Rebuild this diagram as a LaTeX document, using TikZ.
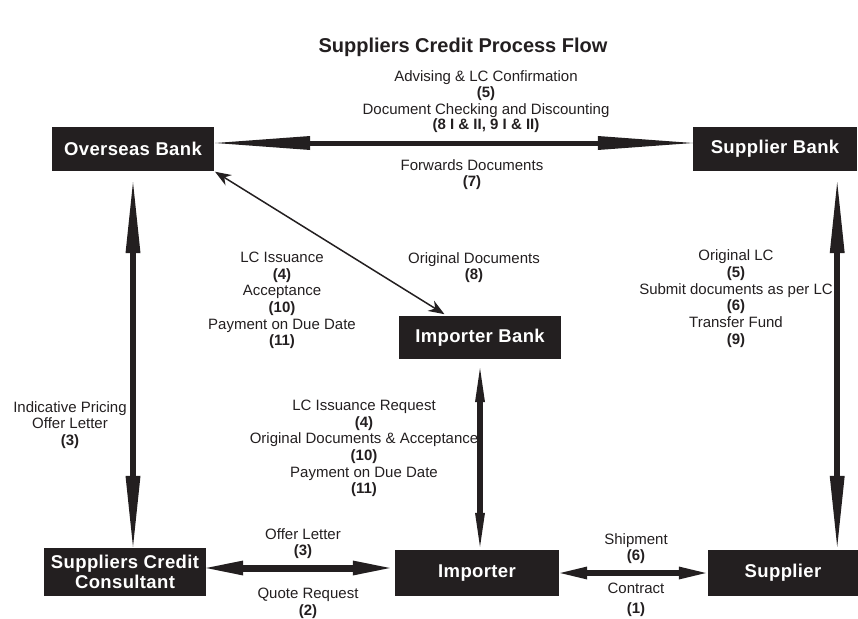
\documentclass[tikz,border=0pt]{standalone}
\usepackage{fontspec}
\setmainfont{Liberation Sans}
\newfontfamily\boxfont[LetterSpace=2.0]{Liberation Sans}
\usetikzlibrary{arrows.meta}
\definecolor{ink}{HTML}{231F20}
\tikzset{>=Stealth}
\tikzset{
  party/.style={fill=ink, text=white, inner sep=0pt, align=center,
    font=\boxfont\bfseries\fontsize{18.5}{20}\selectfont},
  lbl/.style={text=ink, align=center, inner sep=0pt,
    font=\fontsize{15}{16.7}\selectfont},
  longarrow/.style={draw=ink, line width=5pt,
    {Triangle[length=95pt,width=14pt,line width=0pt]}-{Triangle[length=95pt,width=14pt,line width=0pt]}},
  sidearrow/.style={draw=ink, line width=6pt,
    {Triangle[length=71pt,width=15pt,line width=0pt]}-{Triangle[length=71pt,width=15pt,line width=0pt]}},
  midarrow/.style={draw=ink, line width=6pt,
    {Triangle[length=34pt,width=10pt,line width=0pt]}-{Triangle[length=34pt,width=10pt,line width=0pt]}},
  quotearrow/.style={draw=ink, line width=7pt,
    {Triangle[length=37pt,width=15pt,line width=0pt]}-{Triangle[length=37pt,width=15pt,line width=0pt]}},
  shiparrow/.style={draw=ink, line width=6pt,
    {Triangle[length=27pt,width=13pt,line width=0pt]}-{Triangle[length=27pt,width=13pt,line width=0pt]}},
  thinarrow/.style={draw=ink, line width=1.5pt,
    {Stealth[length=16pt,width=12pt]}-{Stealth[length=16pt,width=12pt]}}
}

\begin{document}
\begin{tikzpicture}[x=1pt,y=-1pt]
  \useasboundingbox (0,0) rectangle (858,618);

  \node[text=ink, font=\bfseries\fontsize{20}{22}\selectfont] (title) at (463,47) {Suppliers Credit Process Flow};

  \node[party, minimum width=162pt, minimum height=44pt] (obank) at (133,149) {Overseas Bank};
  \node[party, minimum width=164pt, minimum height=44pt] (sbank) at (775,149) {Supplier Bank};
  \node[party, minimum width=162pt, minimum height=43pt] (ibank) at (480,337.5) {Importer Bank};
  \node[party, minimum width=162pt, minimum height=48pt] (consult) at (125,572) {Suppliers Credit\\Consultant};
  \node[party, minimum width=164pt, minimum height=46pt] (importer) at (477,573) {Importer};
  \node[party, minimum width=150pt, minimum height=46pt] (supplier) at (783,573) {Supplier};

  \draw[longarrow, shorten <=1pt] ([yshift=6pt]obank.east) -- ([yshift=6pt]sbank.west);
  \draw[thinarrow, shorten <=1pt, shorten >=3pt] (obank.south east) -- ([xshift=-33pt]ibank.north);
  \draw[sidearrow, shorten <=11pt, shorten >=1pt] (obank.south) -- (obank.south |- consult.north);
  \draw[midarrow, shorten <=9pt, shorten >=3pt] (ibank.south) -- (ibank.south |- importer.north);
  \draw[sidearrow, shorten <=11pt, shorten >=3pt] ([xshift=-20pt]sbank.south east) -- ([xshift=-20pt]sbank.south east |- supplier.north);
  \draw[quotearrow, shorten >=5pt] ([yshift=4pt]consult.east) -- ([yshift=4pt]consult.east -| importer.west);
  \draw[shiparrow, shorten <=1pt, shorten >=2pt] (importer.east) -- (supplier.west);

  \node[lbl] (advising) at (486,101.5) {Advising \& LC Confirmation\\\textbf{(5)}\\Document Checking and Discounting\\[-1.5pt]\textbf{(8 I \& II, 9 I \& II)}};
  \node[lbl] (forwards) at (472,174.5) {Forwards Documents\\\textbf{(7)}};
  \node[lbl] (lcissue) at (282,300.5) {LC Issuance\\\textbf{(4)}\\Acceptance\\\textbf{(10)}\\Payment on Due Date\\\textbf{(11)}};
  \node[lbl] (origdocs) at (474,267.5) {Original Documents\\\textbf{(8)}};
  \node[lbl] (origlc) at (736,298.5) {Original LC\\\textbf{(5)}\\Submit documents as per LC\\\textbf{(6)}\\Transfer Fund\\\textbf{(9)}};
  \node[lbl] (pricing) at (70,425) {Indicative Pricing\\Offer Letter\\\textbf{(3)}};
  \node[lbl] (request) at (364,448.5) {LC Issuance Request\\\textbf{(4)}\\Original Documents \& Acceptance\\\textbf{(10)}\\Payment on Due Date\\\textbf{(11)}};
  \node[lbl] (offer) at (303,543.5) {Offer Letter\\\textbf{(3)}};
  \node[lbl] (quote) at (308,603.5) {Quote Request\\\textbf{(2)}};
  \node[lbl] (shipment) at (636,548.5) {Shipment\\\textbf{(6)}};
  \node[lbl] (contract) at (636,600) {Contract\\[3pt]\textbf{(1)}};
\end{tikzpicture}
\end{document}
